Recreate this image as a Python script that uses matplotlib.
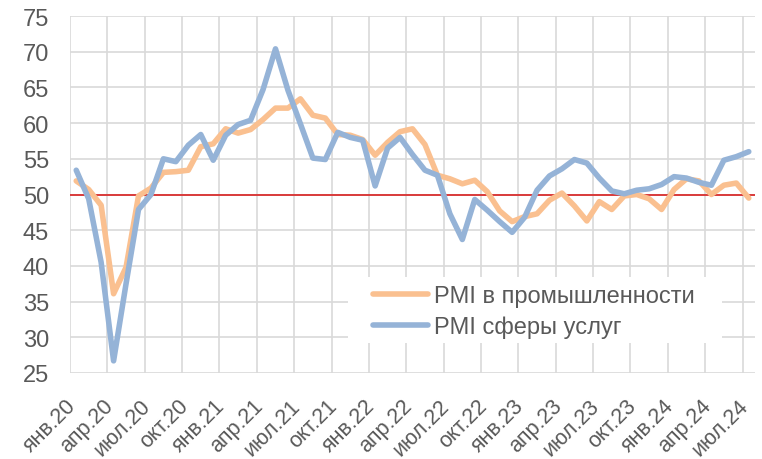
import matplotlib
matplotlib.use("Agg")
import matplotlib.pyplot as plt
from matplotlib.patches import Rectangle
from matplotlib.transforms import ScaledTranslation
import numpy as np

plt.rcParams['font.family'] = ['Liberation Sans', 'DejaVu Sans']

# monthly PMI, Jan 2020 - Jul 2024
manufacturing = [51.9, 50.7, 48.5, 36.1, 39.8, 49.8, 50.9, 53.1, 53.2, 53.4, 56.7, 57.1,
                 59.2, 58.6, 59.1, 60.5, 62.1, 62.1, 63.4, 61.1, 60.7, 58.4, 58.3, 57.7,
                 55.5, 57.3, 58.8, 59.2, 57.0, 52.7, 52.2, 51.5, 52.0, 50.4, 47.7, 46.2,
                 46.9, 47.3, 49.2, 50.2, 48.4, 46.3, 49.0, 47.9, 49.8, 50.0, 49.4, 47.9,
                 50.7, 52.2, 51.9, 50.0, 51.3, 51.6, 49.5]
services = [53.4, 49.4, 40.5, 26.7, 37.5, 47.9, 50.0, 55.0, 54.6, 56.9, 58.4, 54.8,
            58.3, 59.8, 60.4, 64.7, 70.4, 64.6, 59.9, 55.1, 54.9, 58.7, 58.0, 57.6,
            51.2, 56.5, 58.0, 55.6, 53.4, 52.7, 47.3, 43.7, 49.3, 47.8, 46.2, 44.7,
            46.8, 50.6, 52.6, 53.6, 54.9, 54.4, 52.3, 50.5, 50.1, 50.6, 50.8, 51.4,
            52.5, 52.3, 51.7, 51.3, 54.8, 55.3, 56.0]
tick_labels = ['янв.20', 'апр.20', 'июл.20', 'окт.20',
               'янв.21', 'апр.21', 'июл.21', 'окт.21',
               'янв.22', 'апр.22', 'июл.22', 'окт.22',
               'янв.23', 'апр.23', 'июл.23', 'окт.23',
               'янв.24', 'апр.24', 'июл.24']
series_names = ['PMI в промышленности', 'PMI сферы услуг']
threshold = 50

text_color = '#595959'
grid_color = '#d9d9d9'

fig = plt.figure(figsize=(7.62, 4.6), dpi=100)
ax = fig.add_axes([70 / 762, 86 / 460, 685 / 762, 357 / 460])

x = np.arange(len(manufacturing))
ax.plot(x, manufacturing, color='#fac090', lw=4, label=series_names[0],
        solid_joinstyle='round', solid_capstyle='round', zorder=3)
ax.plot(x, services, color='#95b3d7', lw=4, label=series_names[1],
        solid_joinstyle='round', solid_capstyle='round', zorder=4)
ax.axhline(threshold, color='#d82020', lw=1.2, zorder=2)

ax.set_xlim(-0.5, len(x) - 0.5)
ax.set_ylim(25, 75)
ax.set_yticks(np.arange(25, 76, 5))
ax.set_xticks(np.arange(0, len(x), 3))
ax.set_xticklabels(tick_labels, rotation=45, ha='right', va='top')
ax.set_xticks(np.arange(-0.5, len(x) - 1, 3), minor=True)

ax.tick_params(axis='y', length=0, pad=15, labelsize=17, labelcolor=text_color)
ax.tick_params(axis='x', which='both', length=0, pad=16, labelsize=15.5,
               labelcolor=text_color)
shift = ScaledTranslation(4 / 100, 0, fig.dpi_scale_trans)
for lab in ax.get_xticklabels():
    lab.set_transform(lab.get_transform() + shift)

ax.grid(axis='y', which='major', color=grid_color, lw=1.2)
ax.grid(axis='x', which='minor', color=grid_color, lw=1.2)
ax.grid(axis='x', which='major', visible=False)
ax.set_axisbelow(True)
for sp in ax.spines.values():
    sp.set_visible(False)

# white legend box over the grid
ax.add_patch(Rectangle((0.406, 0.084), 0.546, 0.185, transform=ax.transAxes,
                       facecolor='white', edgecolor='none', zorder=1))
leg = ax.legend(loc='center left', bbox_to_anchor=(0.443, 0.172), frameon=False,
                fontsize=17, handlelength=2.3, handletextpad=0.25,
                labelspacing=0.35, borderpad=0, borderaxespad=0)
for t in leg.get_texts():
    t.set_color(text_color)
for h in leg.get_lines():
    h.set_linewidth(4)

fig.savefig('out.png', dpi=100)
